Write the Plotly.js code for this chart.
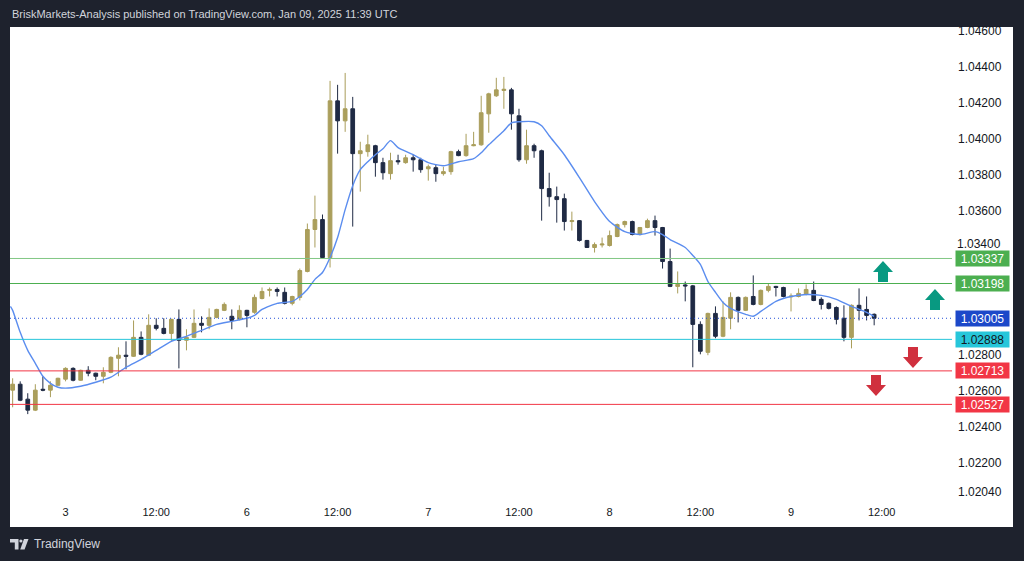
<!DOCTYPE html>
<html>
<head>
<meta charset="utf-8">
<script src="https://cdn.plot.ly/plotly-3.0.1.min.js"></script>
<style>
html,body{margin:0;padding:0;background:#1e222d;}
#chart{width:1024px;height:561px;}
</style>
</head>
<body>
<div id="chart"></div>
<script>
// ---- DATA (EURUSD-style 1H bars, bar 0 = Jan 3 00:00) ----
const bars = [-7,-6,-5,-4,-3,-2,-1,0,1,2,3,4,5,6,7,8,9,10,11,12,13,14,15,16,17,18,19,20,21,22,23,24,25,26,27,28,29,30,31,32,33,34,35,36,37,38,39,40,41,42,43,44,45,46,47,48,49,50,51,52,53,54,55,56,57,58,59,60,61,62,63,64,65,66,67,68,69,70,71,72,73,74,75,76,77,78,79,80,81,82,83,84,85,86,87,88,89,90,91,92,93,94,95,96,97,98,99,100,101,102,103,104,105,106,107];
const opens = [1.02606,1.02639,1.02556,1.02495,1.02611,1.02606,1.02633,1.02667,1.02727,1.02661,1.02716,1.02700,1.02683,1.02705,1.02783,1.02800,1.02794,1.02899,1.02800,1.02966,1.02949,1.02921,1.02999,1.02883,1.02899,1.02977,1.02966,1.03010,1.03049,1.03016,1.02999,1.03049,1.03038,1.03115,1.03160,1.03165,1.03149,1.03088,1.03121,1.03265,1.03498,1.03553,1.03342,1.04212,1.04101,1.04168,1.03919,1.03930,1.03963,1.03869,1.03808,1.03880,1.03869,1.03896,1.03885,1.03835,1.03841,1.03808,1.03819,1.03930,1.03908,1.03963,1.03968,1.04140,1.04240,1.04270,1.04273,1.04129,1.03885,1.03963,1.03935,1.03725,1.03680,1.03669,1.03542,1.03547,1.03437,1.03398,1.03412,1.03409,1.03459,1.03525,1.03542,1.03470,1.03509,1.03547,1.03509,1.03320,1.03182,1.03190,1.03185,1.02971,1.02816,1.03032,1.02905,1.03005,1.03121,1.03049,1.03126,1.03082,1.03160,1.03182,1.03176,1.03124,1.03126,1.03137,1.03160,1.03110,1.03088,1.03065,1.03005,1.02899,1.03077,1.03054,1.03027];
const highs = [1.02672,1.02655,1.02589,1.02639,1.02683,1.02655,1.02675,1.02733,1.02733,1.02720,1.02739,1.02703,1.02733,1.02794,1.02844,1.02877,1.02993,1.02932,1.03027,1.03005,1.03005,1.03002,1.03054,1.02944,1.03054,1.03016,1.03060,1.03058,1.03093,1.03054,1.03077,1.03052,1.03137,1.03176,1.03176,1.03176,1.03176,1.03130,1.03281,1.03531,1.03686,1.03581,1.04323,1.04301,1.04367,1.04234,1.03985,1.04024,1.03968,1.03896,1.03924,1.03913,1.03913,1.03913,1.03896,1.03858,1.03858,1.03846,1.03935,1.03941,1.04029,1.04040,1.04240,1.04257,1.04340,1.04345,1.04284,1.04168,1.04052,1.03974,1.03941,1.03813,1.03736,1.03697,1.03597,1.03550,1.03440,1.03426,1.03453,1.03492,1.03531,1.03547,1.03547,1.03512,1.03558,1.03575,1.03512,1.03392,1.03265,1.03209,1.03190,1.02988,1.03036,1.03071,1.03099,1.03149,1.03126,1.03126,1.03243,1.03165,1.03198,1.03185,1.03180,1.03143,1.03171,1.03193,1.03209,1.03121,1.03093,1.03071,1.03077,1.03082,1.03171,1.03126,1.03032];
const lows = [1.02511,1.02545,1.02473,1.02490,1.02600,1.02567,1.02630,1.02655,1.02655,1.02658,1.02683,1.02661,1.02644,1.02700,1.02683,1.02722,1.02790,1.02800,1.02795,1.02938,1.02916,1.02877,1.02727,1.02827,1.02895,1.02927,1.02944,1.03005,1.03045,1.02944,1.02993,1.02955,1.03030,1.03110,1.03126,1.03126,1.03082,1.03077,1.03104,1.03260,1.03398,1.03338,1.03287,1.03919,1.04040,1.03514,1.03708,1.03902,1.03791,1.03775,1.03775,1.03858,1.03863,1.03819,1.03813,1.03769,1.03763,1.03797,1.03802,1.03905,1.03902,1.03960,1.03963,1.04035,1.04234,1.04168,1.04052,1.03874,1.03863,1.03896,1.03547,1.03625,1.03536,1.03492,1.03492,1.03431,1.03395,1.03370,1.03398,1.03403,1.03455,1.03509,1.03465,1.03465,1.03505,1.03464,1.03281,1.03178,1.03143,1.03099,1.02733,1.02805,1.02800,1.02894,1.02900,1.02944,1.02982,1.03045,1.03077,1.03077,1.03149,1.03126,1.03121,1.03043,1.03121,1.03132,1.03100,1.03054,1.03054,1.02971,1.02877,1.02838,1.02993,1.02993,1.02966];
const closes = [1.02639,1.02550,1.02495,1.02606,1.02606,1.02633,1.02672,1.02727,1.02661,1.02716,1.02700,1.02683,1.02705,1.02788,1.02800,1.02794,1.02899,1.02805,1.02966,1.02949,1.02921,1.02999,1.02883,1.02899,1.02977,1.02966,1.03010,1.03054,1.03082,1.02993,1.03049,1.03021,1.03121,1.03154,1.03165,1.03154,1.03088,1.03126,1.03270,1.03498,1.03553,1.03342,1.04212,1.04101,1.04168,1.03919,1.03935,1.03968,1.03869,1.03813,1.03880,1.03874,1.03896,1.03885,1.03830,1.03846,1.03808,1.03819,1.03930,1.03908,1.03963,1.03968,1.04146,1.04251,1.04273,1.04276,1.04140,1.03885,1.03963,1.03935,1.03725,1.03680,1.03664,1.03542,1.03547,1.03437,1.03398,1.03414,1.03417,1.03464,1.03525,1.03542,1.03470,1.03509,1.03547,1.03509,1.03320,1.03182,1.03193,1.03185,1.02971,1.02822,1.03032,1.02905,1.03010,1.03121,1.03049,1.03121,1.03082,1.03160,1.03182,1.03176,1.03126,1.03128,1.03143,1.03165,1.03104,1.03082,1.03060,1.02999,1.02899,1.03077,1.03049,1.03021,1.03005];

// moving average line
const maBars = [-7.3,-7,-6,-5,-4,-3,-2,-1,0,2,4,6,8,10,12,14,16,18,20,22,24,25,26,28,30,31,32,33,34,35,36,37,38,39,40,41,42,43,44,46,48,50,52,54,55,56,57,58,59,60,62,63,64,66,68,70,72,74,76,78,79,80,82,83,84,85,86,87,88,90,91,92,94,96,98,100,102,104,106,107];
const maVals = [1.03071,1.03049,1.02927,1.02827,1.02755,1.02683,1.02644,1.02622,1.02617,1.02628,1.02650,1.02678,1.02733,1.02777,1.02827,1.02877,1.02905,1.02938,1.02971,1.02988,1.03005,1.03021,1.03054,1.03088,1.03099,1.03126,1.03165,1.03221,1.03259,1.03342,1.03453,1.03608,1.03741,1.03830,1.03874,1.03913,1.03946,1.03991,1.03952,1.03913,1.03869,1.03852,1.03874,1.03891,1.03924,1.03968,1.04007,1.04046,1.04090,1.04096,1.04096,1.04074,1.04018,1.03913,1.03786,1.03653,1.03542,1.03486,1.03470,1.03486,1.03470,1.03442,1.03398,1.03354,1.03304,1.03209,1.03149,1.03093,1.03060,1.03027,1.03016,1.03043,1.03099,1.03126,1.03137,1.03132,1.03110,1.03071,1.03038,1.03016];

// axis ticks
const xTickBars = [0,12,24,36,48,60,72,84,96,108];
const xTickText = ['3','12:00','6','12:00','7','12:00','8','12:00','9','12:00'];
const yTickVals = [1.046,1.044,1.042,1.040,1.038,1.036,1.028,1.026,1.024,1.022,1.0204];
const yTickText = ['1.04600','1.04400','1.04200','1.04000','1.03800','1.03600','1.02800','1.02600','1.02400','1.02200','1.02040'];
const crowdedTick = 1.034;            // drawn separately, nudged clear of the level box
const crowdedTickText = '1.03400';

// horizontal levels
const levelVals   = [1.03337, 1.03198, 1.02888, 1.02713, 1.02527];
const levelLine   = ['#81c784','#4caf50','#26c6da','#f23645','#f23645'];
const levelBox    = ['#4caf50','#4caf50','#26c6da','#f23645','#f23645'];
const levelText   = ['#ffffff','#ffffff','#131722','#ffffff','#ffffff'];
const lastPrice = 1.03005;

// ---- LAYOUT helpers ----
const W = 1024, H = 561;
const M = {l:10, r:72, t:27, b:57};
const PW = W - M.l - M.r, PH = H - M.t - M.b;
const px = x => (x - M.l) / PW;
const py = y => (H - M.b - y) / PH;
function pathFrom(pts){ return 'M' + pts.map(p => px(p[0]).toFixed(5)+','+py(p[1]).toFixed(5)).join(' L') + ' Z'; }
function upArrow(cx, ty){ return pathFrom([[cx,ty],[cx+10,ty+11],[cx+5,ty+11],[cx+5,ty+21],[cx-5,ty+21],[cx-5,ty+11],[cx-10,ty+11]]); }
function downArrow(cx, ty){ return pathFrom([[cx-5,ty],[cx+5,ty],[cx+5,ty+10],[cx+10,ty+10],[cx,ty+21],[cx-10,ty+10],[cx-5,ty+10]]); }

const shapes = [];
// white panel
shapes.push({type:'rect', xref:'paper', yref:'paper', x0:px(10), x1:px(1013), y0:py(527), y1:py(27), fillcolor:'#ffffff', line:{width:0}, layer:'below'});
levelVals.forEach((v,i) => shapes.push({type:'line', xref:'paper', yref:'y', x0:0, x1:1, y0:v, y1:v, line:{color:levelLine[i], width:1}}));
shapes.push({type:'line', xref:'paper', yref:'y', x0:0, x1:1, y0:lastPrice, y1:lastPrice, line:{color:'#2450d8', width:1, dash:'1px,3px'}});
// arrows
shapes.push({type:'path', xref:'paper', yref:'paper', path:upArrow(883,261), fillcolor:'#089981', line:{width:0}});
shapes.push({type:'path', xref:'paper', yref:'paper', path:upArrow(935,289), fillcolor:'#089981', line:{width:0}});
shapes.push({type:'path', xref:'paper', yref:'paper', path:downArrow(913,347), fillcolor:'#d0303e', line:{width:0}});
shapes.push({type:'path', xref:'paper', yref:'paper', path:downArrow(876,375), fillcolor:'#d0303e', line:{width:0}});
// TradingView logo mark
shapes.push({type:'path', xref:'paper', yref:'paper', path:pathFrom([[10,539],[18.5,539],[18.5,549.5],[14.8,549.5],[14.8,542.6],[10,542.6]]), fillcolor:'#d1d4dc', line:{width:0}});
shapes.push({type:'circle', xref:'paper', yref:'paper', x0:px(19.3), x1:px(22.5), y0:py(542.6), y1:py(539.4), fillcolor:'#d1d4dc', line:{width:0}});
shapes.push({type:'path', xref:'paper', yref:'paper', path:pathFrom([[24,539],[28.5,539],[24.6,549.5],[20.2,549.5]]), fillcolor:'#d1d4dc', line:{width:0}});

const annotations = [];
annotations.push({xref:'paper', yref:'paper', x:px(10), y:py(14), xanchor:'left', yanchor:'middle', showarrow:false,
  text:'BriskMarkets-Analysis published on TradingView.com, Jan 09, 2025 11:39 UTC',
  font:{family:'Liberation Sans, Arial, sans-serif', size:11, color:'#d1d4dc'}});
annotations.push({xref:'paper', yref:'paper', x:px(32), y:py(544), xanchor:'left', yanchor:'middle', showarrow:false,
  text:'TradingView', font:{family:'Liberation Sans, Arial, sans-serif', size:12, color:'#d1d4dc'}});
annotations.push({xref:'paper', yref:'y', x:1, y:crowdedTick, xanchor:'left', yanchor:'bottom', xshift:4, yshift:-5, showarrow:false,
  borderpad:0, text:crowdedTickText, font:{family:'Liberation Sans, Arial, sans-serif', size:12, color:'#131722'}});
function priceBox(v, bg, fg){
  annotations.push({xref:'paper', yref:'y', x:px(955), y:v, xanchor:'left', yanchor:'middle', showarrow:false,
    text:v.toFixed(5), bgcolor:bg, width:50, height:12, borderpad:1.5, align:'center',
    font:{family:'Liberation Sans, Arial, sans-serif', size:12, color:fg}});
}
levelVals.forEach((v,i) => priceBox(v, levelBox[i], levelText[i]));
priceBox(lastPrice, '#1c48c9', '#ffffff');

const traces = [
  {type:'candlestick', x:bars, open:opens, high:highs, low:lows, close:closes,
   increasing:{line:{color:'#a99d5a', width:1}, fillcolor:'#ab9f5c'},
   decreasing:{line:{color:'#1f2a44', width:1}, fillcolor:'#1f2a44'},
   whiskerwidth:0, hoverinfo:'skip', showlegend:false},
  {type:'scatter', mode:'lines', x:maBars, y:maVals, line:{color:'#5b8def', width:1.4, shape:'spline', smoothing:0.6},
   hoverinfo:'skip', showlegend:false}
];

const layout = {
  width:W, height:H, margin:M, paper_bgcolor:'#1e222d', plot_bgcolor:'#ffffff',
  showlegend:false, shapes:shapes, annotations:annotations,
  font:{family:'Liberation Sans, Arial, sans-serif', size:11, color:'#131722'},
  xaxis:{range:[-7.35,117.3], tickvals:xTickBars, ticktext:xTickText, showgrid:false, zeroline:false, showline:false,
    ticks:'', rangeslider:{visible:false}, fixedrange:true, tickfont:{size:11, color:'#131722'}},
  yaxis:{side:'right', range:[1.01974,1.04622], tickvals:yTickVals, ticktext:yTickText, showgrid:false, zeroline:false,
    showline:false, ticks:'', ticklabelstandoff:5, fixedrange:true, tickfont:{size:12, color:'#131722'}}
};

Plotly.newPlot('chart', traces, layout, {displayModeBar:false, staticPlot:true});
</script>
</body>
</html>
